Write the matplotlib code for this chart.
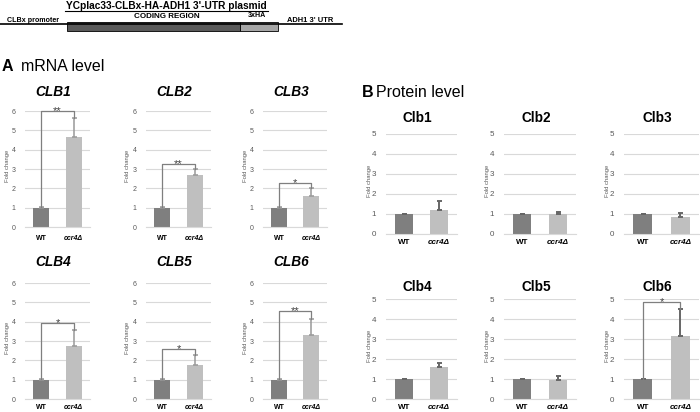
import matplotlib
matplotlib.use("Agg")
import matplotlib.pyplot as plt
from matplotlib.patches import Rectangle

plt.rcParams['font.family'] = ['Liberation Sans', 'DejaVu Sans']

# ---------------- data ----------------
groups = ['WT', 'ccr4Δ']
mrna_genes = ['CLB1', 'CLB2', 'CLB3', 'CLB4', 'CLB5', 'CLB6']
mrna_wt = [1.0, 1.0, 1.0, 1.0, 1.0, 1.0]
mrna_wt_err = [0.02, 0.02, 0.02, 0.02, 0.02, 0.02]
mrna_ccr4 = [4.68, 2.68, 1.62, 2.72, 1.77, 3.30]
mrna_ccr4_err = [0.95, 0.32, 0.40, 0.85, 0.50, 0.86]
mrna_sig = ['**', '**', '*', '*', '*', '**']
mrna_bracket = [6.0, 3.25, 2.27, 3.92, 2.6, 4.55]
mrna_yticks = [0, 1, 2, 3, 4, 5, 6]

prot_genes = ['Clb1', 'Clb2', 'Clb3', 'Clb4', 'Clb5', 'Clb6']
prot_wt = [1.0, 1.0, 1.0, 1.0, 1.0, 1.0]
prot_wt_err = [0.02, 0.02, 0.02, 0.02, 0.02, 0.02]
prot_ccr4 = [1.20, 0.98, 0.87, 1.62, 0.97, 3.13]
prot_ccr4_err = [0.47, 0.14, 0.16, 0.17, 0.17, 1.35]
prot_sig = ['', '', '', '', '', '*']
prot_bracket = [None, None, None, None, None, 4.85]
prot_yticks = [0, 1, 2, 3, 4, 5]

W, H = 700, 412
fig = plt.figure(figsize=(W / 100, H / 100), dpi=100)

ov = fig.add_axes([0, 0, 1, 1])
ov.set_xlim(0, W)
ov.set_ylim(H, 0)
ov.axis('off')

# ---------------- plasmid diagram ----------------
ov.plot([0, 342], [24, 24], color='black', lw=1.2)
ov.add_patch(Rectangle((67, 21.5), 173, 9, facecolor='#595959', edgecolor='black', lw=0.6))
ov.add_patch(Rectangle((240, 21.5), 38, 9, facecolor='#a6a6a6', edgecolor='black', lw=0.6))
ov.text(166, 5.5, "YCplac33-CLBx-HA-ADH1 3'-UTR plasmid", ha='center', va='center',
        fontsize=7.3, fontweight='bold')
ov.plot([65, 268], [11.2, 11.2], color='black', lw=0.8)
ov.text(7, 20.3, 'CLBx promoter', ha='left', va='center', fontsize=5.1, fontweight='bold')
ov.text(167, 16, 'CODING REGION', ha='center', va='center', fontsize=5.8, fontweight='bold')
ov.text(257, 15, '3xHA', ha='center', va='center', fontsize=5.1, fontweight='bold')
ov.text(287, 20.3, "ADH1 3' UTR", ha='left', va='center', fontsize=5.4, fontweight='bold')

# ---------------- section labels ----------------
ov.text(2, 66, 'A', ha='left', va='center', fontsize=11.5, fontweight='bold')
ov.text(21, 66, 'mRNA level', ha='left', va='center', fontsize=11.5)
ov.text(362, 92, 'B', ha='left', va='center', fontsize=11.5, fontweight='bold')
ov.text(376, 92, 'Protein level', ha='left', va='center', fontsize=11.5)

DARK = '#7f7f7f'
LIGHT = '#bfbfbf'
GRID = '#d9d9d9'
TXT = '#595959'


def panel(left, right, ybot, ytop, ymax, yticks, title, title_y, italic,
          wt, wt_err, mu, mu_err, sig, br, tick_fs, title_fs, err_color, err_lw,
          ylab_dx, xpad):
    ax = fig.add_axes([left / W, 1 - ybot / H, (right - left) / W, (ybot - ytop) / H])
    ax.set_facecolor('none')
    ax.set_xlim(-0.5, 1.5)
    ax.set_ylim(0, ymax)
    for s in ['top', 'right', 'left']:
        ax.spines[s].set_visible(False)
    ax.spines['bottom'].set_color(GRID)
    ax.spines['bottom'].set_linewidth(0.8)
    ax.set_yticks(yticks)
    ax.yaxis.grid(True, color=GRID, lw=0.8)
    ax.set_axisbelow(True)
    ax.tick_params(axis='both', length=0, colors=TXT, labelsize=tick_fs)
    ax.tick_params(axis='y', pad=7)
    ax.tick_params(axis='x', pad=xpad, labelcolor='black')
    ax.bar([0, 1], [wt, mu], width=0.5, color=[DARK, LIGHT], zorder=2)
    ax.errorbar([0], [wt], yerr=[[0], [wt_err]], fmt='none', ecolor=err_color,
                elinewidth=err_lw, capsize=1.8, capthick=err_lw, zorder=3)
    ax.errorbar([1], [mu], yerr=[[0], [mu_err]], fmt='none', ecolor=err_color,
                elinewidth=err_lw, capsize=1.8, capthick=err_lw, zorder=3)
    ax.set_xticks([0, 1])
    ax.set_xticklabels(groups)
    labs = ax.get_xticklabels()
    labs[0].set_fontweight('bold')
    labs[1].set_fontweight('bold')
    labs[1].set_fontstyle('italic')
    if br is not None:
        ax.plot([0, 0, 1, 1], [wt + wt_err, br, br, mu + mu_err], color=DARK,
                lw=0.9, clip_on=False, zorder=4)
        ax.text(0.5, br, sig, ha='center', va='center', fontsize=8, color='#404040',
                clip_on=False)
    cx = (left + right) / 2 - 4
    ov.text(cx, title_y, title, ha='center', va='center', fontsize=title_fs,
            fontweight='bold', fontstyle='italic' if italic else 'normal')
    ov.text(left - ylab_dx, (ybot + ytop) / 2 - 3, 'Fold change', rotation=90,
            ha='center', va='center', fontsize=4.2, color=TXT)
    return ax


# mRNA panels
m_cols = [(25, 90), (146, 211), (263, 327)]
m_rows = [(227, 111, 92, 5.5), (399, 283, 262, 3.5)]
for i in range(6):
    l, r = m_cols[i % 3]
    yb, yt, ty, xp = m_rows[i // 3]
    panel(l, r, yb, yt, 6, mrna_yticks, mrna_genes[i], ty, True,
          mrna_wt[i], mrna_wt_err[i], mrna_ccr4[i], mrna_ccr4_err[i],
          mrna_sig[i], mrna_bracket[i], 5.0, 9.8, '#999999', 1.1, 18, xp)

# protein panels
p_cols = [(386, 457), (504, 576), (624, 699)]
p_rows = [(234, 134, 118, 3.5), (399, 299, 287, 3.5)]
for i in range(6):
    l, r = p_cols[i % 3]
    yb, yt, ty, xp = p_rows[i // 3]
    panel(l, r, yb, yt, 5, prot_yticks, prot_genes[i], ty, False,
          prot_wt[i], prot_wt_err[i], prot_ccr4[i], prot_ccr4_err[i],
          prot_sig[i], prot_bracket[i], 5.8, 9.8, '#666666', 1.4, 16, xp)

fig.savefig('out.png', dpi=100)
